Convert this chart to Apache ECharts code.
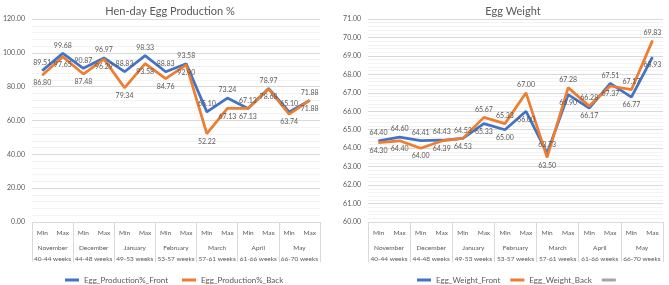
<!DOCTYPE html>
<html>
<head>
<meta charset="utf-8">
<script src="https://cdn.jsdelivr.net/npm/echarts@6/dist/echarts.min.js"></script>
<style>
  html, body { margin: 0; padding: 0; background: #fff; }
  #chart { width: 669px; height: 285px; }
</style>
</head>
<body>
<div id="chart"></div>
<script>
var subLabels = ["Min", "Max", "Min", "Max", "Min", "Max", "Min", "Max", "Min", "Max", "Min", "Max", "Min", "Max"];
var groupLabels = [
  "November\n40-44 weeks",
  "December\n44-48 weeks",
  "January\n49-53 weeks",
  "February\n53-57 weeks",
  "March\n57-61 weeks",
  "April\n61-66 weeks",
  "May\n66-70 weeks"
];

var prodFront = [89.51, 99.68, 90.87, 96.97, 88.83, 98.33, 88.83, 93.58, 65.10, 73.24, 67.13, 78.97, 65.10, 71.88];
var prodBack = [86.80, 97.65, 87.48, 96.29, 79.34, 93.58, 84.76, 92.90, 52.22, 67.13, 67.13, 78.68, 63.74, 71.88];

var weightFront = [64.40, 64.60, 64.41, 64.43, 64.53, 65.33, 65.00, 66.00, 63.73, 66.90, 66.17, 67.51, 66.77, 68.93];
var weightBack = [64.30, 64.40, 64.00, 64.39, 64.53, 65.67, 65.33, 67.00, 63.50, 67.28, 66.28, 67.37, 67.17, 69.83];

var txt = "#595959";
var font = "Lato";
var blue = "#4472c4", orange = "#ed7d31", gray = "#a5a5a5";

// the higher of the two points gets its label above, the other below
function withLabels(vals, other, isFront) {
  return vals.map(function (v, i) {
    var up = isFront ? v >= other[i] : v > other[i];
    return { value: v, label: { show: true, position: up ? "top" : "bottom" } };
  });
}

function xAxes(grid) {
  return [
    {
      type: "category", gridIndex: grid, data: subLabels, boundaryGap: true,
      axisLine: { lineStyle: { color: "#d9d9d9" } },
      axisTick: { show: false },
      axisLabel: { color: txt, fontSize: 6.5, fontFamily: font, margin: 7, interval: 0 }
    },
    {
      type: "category", gridIndex: grid, data: groupLabels, position: "bottom", boundaryGap: true,
      axisLine: { show: false },
      axisTick: { show: true, length: 40, lineStyle: { color: "#d9d9d9" } },
      axisLabel: { color: txt, fontSize: 6.5, fontFamily: font, margin: 21, lineHeight: 10.5, interval: 0 }
    }
  ];
}

function yAxis(grid, min, max, step) {
  return {
    type: "value", gridIndex: grid, min: min, max: max, interval: step,
    axisLine: { show: false }, axisTick: { show: false },
    axisLabel: {
      color: txt, fontSize: 7, fontFamily: font, margin: 7,
      formatter: function (v) { return v.toFixed(2); }
    },
    splitLine: { lineStyle: { color: "#d9d9d9" } },
    minorTick: { show: false, splitNumber: 5 },
    minorSplitLine: { show: true, lineStyle: { color: "#f3f3f3" } }
  };
}

function lineSeries(name, color, data, xi, yi) {
  return {
    name: name, type: "line", xAxisIndex: xi, yAxisIndex: yi,
    data: data, color: color, symbol: "circle", symbolSize: 1, showSymbol: true,
    lineStyle: { width: 2.75, color: color },
    label: { show: true, color: txt, fontSize: 7, fontFamily: font, distance: 4,
      formatter: function (p) { return p.value.toFixed(2); } }
  };
}

var chart = echarts.init(document.getElementById("chart"));
chart.setOption({
  animation: false,
  textStyle: { fontFamily: font },
  title: [
    { text: "Hen-day Egg Production %", left: 165, top: 1, textAlign: "center",
      textStyle: { color: txt, fontSize: 11, fontWeight: "normal", fontFamily: font } },
    { text: "Egg Weight", left: 508, top: 1, textAlign: "center",
      textStyle: { color: txt, fontSize: 11, fontWeight: "normal", fontFamily: font } }
  ],
  legend: [
    { data: ["Egg_Production%_Front", "Egg_Production%_Back"], left: 60, top: 271,
      itemWidth: 14, itemHeight: 3, itemGap: 14, icon: "rect",
      textStyle: { color: txt, fontSize: 8, fontFamily: font } },
    { data: ["Egg_Weight_Front", "Egg_Weight_Back", " "], left: 412, top: 271,
      itemWidth: 14, itemHeight: 3, itemGap: 10, icon: "rect",
      textStyle: { color: txt, fontSize: 8, fontFamily: font } }
  ],
  grid: [
    { left: 27, right: 349, top: 19, bottom: 63 },
    { left: 368, right: 6, top: 19, bottom: 63 }
  ],
  xAxis: xAxes(0).concat(xAxes(1)),
  yAxis: [yAxis(0, 0, 120, 20), yAxis(1, 60, 71, 1)],
  series: [
    lineSeries("Egg_Production%_Front", blue, withLabels(prodFront, prodBack, true), 0, 0),
    lineSeries("Egg_Production%_Back", orange, withLabels(prodBack, prodFront, false), 0, 0),
    lineSeries("Egg_Weight_Front", blue, withLabels(weightFront, weightBack, true), 2, 1),
    lineSeries("Egg_Weight_Back", orange, withLabels(weightBack, weightFront, false), 2, 1),
    { name: " ", type: "line", xAxisIndex: 2, yAxisIndex: 1, data: [], color: gray,
      lineStyle: { color: gray, width: 2.5 } }
  ]
});
</script>
</body>
</html>
